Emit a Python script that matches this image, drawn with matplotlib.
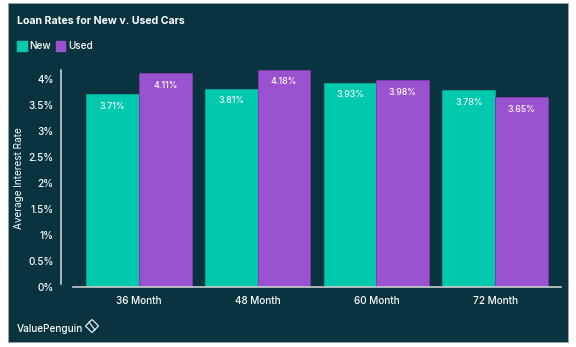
import numpy as np
import matplotlib
matplotlib.use("Agg")
import matplotlib.pyplot as plt
from matplotlib.patches import Rectangle, Polygon
from matplotlib.lines import Line2D

# loan terms and average rates (percent)
terms = ["36 Month", "48 Month", "60 Month", "72 Month"]
new_rates = [3.71, 3.81, 3.93, 3.78]
used_rates = [4.11, 4.18, 3.98, 3.65]
yticks = [0, 0.5, 1, 1.5, 2, 2.5, 3, 3.5, 4]
ytick_labels = ["0%", "0.5%", "1%", "1.5%", "2%", "2.5%", "3%", "3.5%", "4%"]

BG = "#08333f"
NEW = "#00c9ae"
USED = "#9b52d1"
TXT = "#ffffff"
plt.rcParams["font.family"] = ["Inter", "DejaVu Sans"]
plt.rcParams["font.weight"] = "medium"

W, H = 576, 347
fig = plt.figure(figsize=(W / 100, H / 100), dpi=100)
fig.patch.set_facecolor("white")

# dark panel behind everything
fig.patches.append(Rectangle((8 / W, 1 - 342 / H), 560 / W, 339 / H,
                             transform=fig.transFigure, facecolor=BG,
                             edgecolor="#9aa4a8", linewidth=0.6, zorder=-1))

ax = fig.add_axes([73 / W, 1 - 286.7 / H, 488 / W, (286.7 - 68.6) / H])
ax.set_zorder(2)
ax.set_facecolor("none")

# spines first: moving a spine resets its axis ticks
for s in ("top", "right"):
    ax.spines[s].set_visible(False)
ax.spines["left"].set_position(("outward", 9))
ax.spines["left"].set_bounds(0.05, 4.18)
for s in ("left", "bottom"):
    ax.spines[s].set_color("#c9cfd1")
    ax.spines[s].set_linewidth(1.2)

x = np.arange(len(terms))
w = 0.445
b1 = ax.bar(x - w / 2, new_rates, w, color=NEW, edgecolor="#0aa592", linewidth=0.7)
b2 = ax.bar(x + w / 2, used_rates, w, color=USED, edgecolor="#7c3daa", linewidth=0.7)

for bars, vals in ((b1, new_rates), (b2, used_rates)):
    for r, v in zip(bars, vals):
        ax.annotate(f"{v:.2f}%", (r.get_x() + r.get_width() / 2, v),
                    xytext=(0, -12), textcoords="offset pixels",
                    ha="center", va="center", color=TXT, fontsize=6.3)

ax.set_xlim(-0.555, 3.555)
ax.set_ylim(0, 4.2)
ax.set_xticks(x)
ax.set_xticklabels(terms, color=TXT, fontsize=7.2)
ax.set_yticks(yticks)
ax.set_yticklabels(ytick_labels, color=TXT, fontsize=7.2)
ax.tick_params(length=0)
ax.tick_params(axis="y", pad=5)
ax.tick_params(axis="x", pad=7)

ax.set_ylabel("Average Interest Rate", color=TXT, fontsize=7.2)
ax.yaxis.set_label_coords(-49 / 488, 0.5)

fig.text(17 / W, 1 - 21.5 / H, "Loan Rates for New v. Used Cars", color=TXT,
         fontsize=7.6, fontweight="bold", ha="left", va="center")

# legend
fig.patches.append(Rectangle((17 / W, 1 - 51 / H), 9.5 / W, 10 / H,
                             transform=fig.transFigure, color=NEW))
fig.text(29 / W, 1 - 46 / H, "New", color=TXT, fontsize=7.2, va="center")
fig.patches.append(Rectangle((55.5 / W, 1 - 51 / H), 9.5 / W, 10 / H,
                             transform=fig.transFigure, color=USED))
fig.text(68 / W, 1 - 46 / H, "Used", color=TXT, fontsize=7.2, va="center")

# footer brand
fig.text(17 / W, 1 - 329 / H, "ValuePenguin", color=TXT, fontsize=7.2, va="center")
cx, cy, r = 92 / W, 1 - 326 / H, 6.5
fig.patches.append(Polygon([(cx, cy + r / H), (cx + r / W, cy), (cx, cy - r / H), (cx - r / W, cy)],
                           closed=True, transform=fig.transFigure, fill=False,
                           edgecolor=TXT, linewidth=0.8))
fig.lines.append(Line2D([cx - 3 / W, cx + 3 / W], [cy + 4 / H, cy - 4 / H],
                        transform=fig.transFigure, color=TXT, linewidth=0.8))

fig.savefig("out.png", dpi=100, facecolor=fig.get_facecolor())
